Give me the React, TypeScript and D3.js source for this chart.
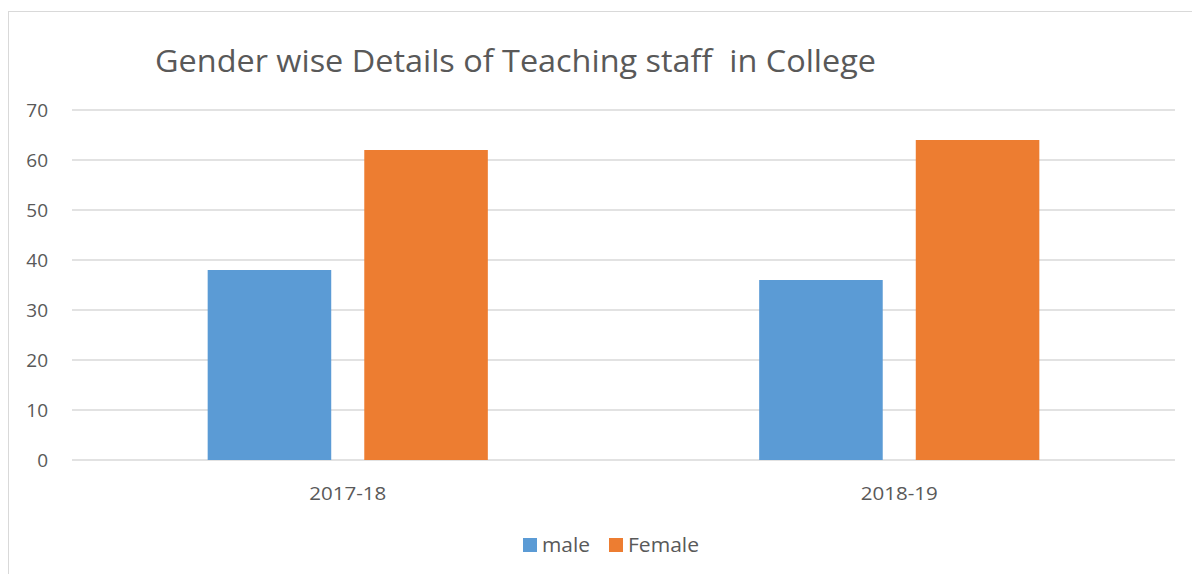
import React from "react";
import * as d3 from "d3";

const categories = ["2017-18", "2018-19"];
const seriesNames = ["male", "Female"];
const maleValues = [38, 36];
const femaleValues = [62, 64];
const yTicks = [0, 10, 20, 30, 40, 50, 60, 70];
const title = "Gender wise Details of Teaching staff  in College";

const colors = ["#5B9BD5", "#ED7D31"];
const FONT = "'Open Sans', 'Noto Sans', sans-serif";

export default function App() {
  const W = 1192, H = 574;
  const left = 72, right = 1175, top = 110, bottom = 460;
  const values = [maleValues, femaleValues];

  const y = d3.scaleLinear().domain([0, 70]).range([bottom, top]);
  const x0 = d3.scaleBand<string>().domain(categories).range([left, right]).paddingInner(0.492).paddingOuter(0.246);
  const x1 = d3.scaleBand<string>().domain(seriesNames).range([0, x0.bandwidth()]).paddingInner(0.211).paddingOuter(0);

  return (
    <svg width={W} height={H} style={{ position: "absolute", left: 0, top: 0, background: "#fff" }}>
      <rect x={8.5} y={11.5} width={1300} height={700} fill="#fff" stroke="#D9D9D9" strokeWidth={1} />
      <text x={155} y={72} fontFamily={FONT} fontSize={31} fill="#595959" textLength={721} lengthAdjust="spacingAndGlyphs" style={{ whiteSpace: "pre" }}>{title}</text>
      {yTicks.map((t) => (
        <g key={t}>
          <line x1={left} x2={right} y1={y(t)} y2={y(t)} stroke="#D9D9D9" strokeWidth={1.5} />
          <text x={48} y={y(t) + 7} textAnchor="end" fontFamily={FONT} fontSize={19} fill="#595959">{t}</text>
        </g>
      ))}
      {categories.map((c, ci) => (
        <g key={c}>
          {seriesNames.map((s, si) => (
            <rect key={s} x={(x0(c) ?? 0) + (x1(s) ?? 0)} y={y(values[si][ci])} width={x1.bandwidth()} height={bottom - y(values[si][ci])} fill={colors[si]} />
          ))}
          <text x={(x0(c) ?? 0) + x0.bandwidth() / 2} y={500} textAnchor="middle" fontFamily={FONT} fontSize={19} fill="#595959" textLength={77} lengthAdjust="spacingAndGlyphs">{c}</text>
        </g>
      ))}
      {seriesNames.map((s, i) => {
        const lx = [523, 609][i];
        const tl = [48, 71][i];
        return (
          <g key={s}>
            <rect x={lx} y={538} width={14} height={14} fill={colors[i]} />
            <text x={lx + 19} y={552} fontFamily={FONT} fontSize={20} fill="#595959" textLength={tl} lengthAdjust="spacingAndGlyphs">{s}</text>
          </g>
        );
      })}
    </svg>
  );
}
